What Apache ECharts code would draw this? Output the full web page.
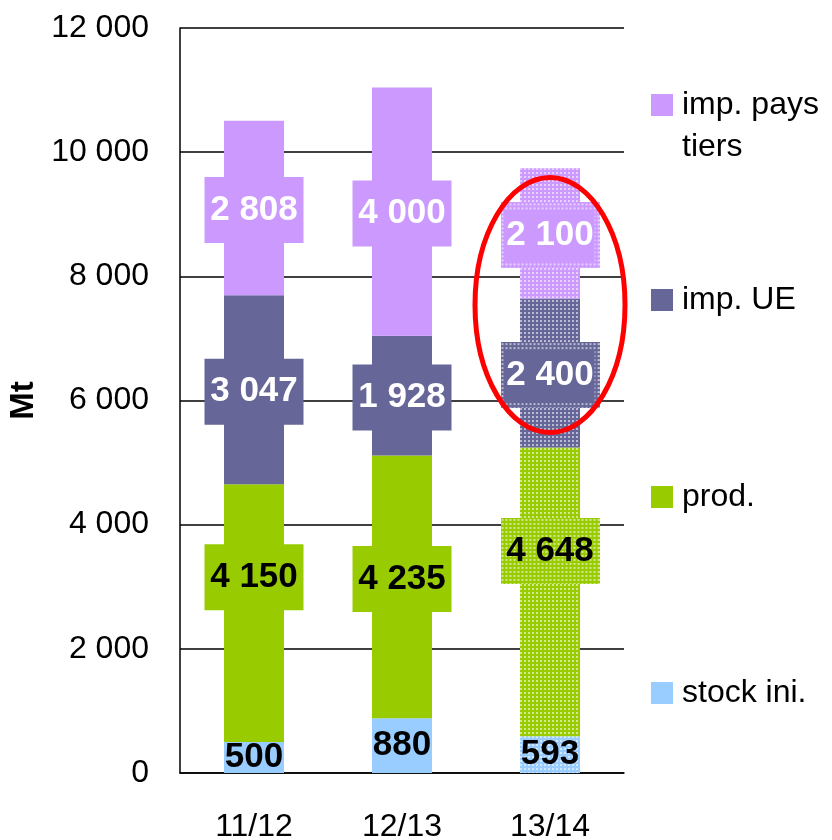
<!DOCTYPE html>
<html><head><meta charset="utf-8">
<script src="https://cdn.jsdelivr.net/npm/echarts@6/dist/echarts.min.js"></script>
<style>html,body{margin:0;padding:0;background:#fff}#c{width:832px;height:840px}</style>
</head><body><div id="c"></div>
<script>
// ---- data ----
const categories = ['11/12', '12/13', '13/14'];
const stockIni = [500, 880, 593];
const prod = [4150, 4235, 4648];
const impUE = [3047, 1928, 2400];
const impPaysTiers = [2808, 4000, 2100];
const seriesNames = ['stock ini.', 'prod.', 'imp. UE', 'imp. pays tiers'];
const yMin = 0, yMax = 12000, yInterval = 2000;
// label vertical nudges (px) as placed in the original
const prodLabelOffset = [-36, -8, -41];

// ---- styles ----
const FONT = '"Liberation Sans", Arial, Helvetica, sans-serif';
const colors = ['#99CCFF', '#99CC00', '#666699', '#CC99FF'];
const textColors = ['#000', '#000', '#fff', '#fff'];
const BOX_W = 85, BOX_H = 34, PAD_V = 16, PAD_H = 7;
const decal = { symbol: 'rect', symbolSize: 1, dashArrayX: [2, 2], dashArrayY: [2, 2], color: 'rgba(255,255,255,0.55)', rotation: 0 };

function fmt(v) { return String(v).replace(/\B(?=(\d{3})+(?!\d))/g, ' '); }

function patternCanvas(color, inset) {
  const w = BOX_W + 2 * PAD_H, h = BOX_H + 2 * PAD_V;
  const c = document.createElement('canvas'); c.width = w; c.height = h;
  const g = c.getContext('2d');
  g.fillStyle = color; g.fillRect(0, 0, w, h);
  g.fillStyle = 'rgba(255,255,255,0.55)';
  for (let y = 1; y < h; y += 4) for (let x = 1; x < w; x += 4) g.fillRect(x, y, 2, 2);
  if (inset) { g.fillStyle = color; g.fillRect(inset[0], inset[1], w - 2 * inset[0], h - 2 * inset[1]); }
  return c;
}

const seriesValues = [stockIni, prod, impUE, impPaysTiers];

function buildData(si) {
  const vals = seriesValues[si];
  return vals.map((v, i) => {
    const patterned = i === 2;
    const item = { value: v };
    const label = {};
    if (si > 0) {
      label.width = BOX_W; label.height = BOX_H; label.lineHeight = BOX_H;
      label.padding = [PAD_V, PAD_H];
      if (patterned) {
        label.backgroundColor = { image: patternCanvas(colors[si], si === 1 ? null : [5, 7]) };
      } else {
        label.backgroundColor = colors[si];
      }
      label.offset = [0, si === 1 ? prodLabelOffset[i] : 2];
    }
    item.label = label;
    if (patterned) item.itemStyle = { decal: decal };
    return item;
  });
}

const chart = echarts.init(document.getElementById('c'), null, { renderer: 'canvas' });

const legendCenters = [105, 300, 497, 693]; // imp. pays tiers, imp. UE, prod., stock ini.
const LEG_LH = 39, LEG_LH_FIRST = 42;

const option = {
  animation: false,
  backgroundColor: '#fff',
  color: colors,
  grid: { left: 180, right: 208, top: 28, bottom: 67, outerBoundsMode: 'none', containLabel: false },
  xAxis: {
    type: 'category', data: categories,
    axisLine: { lineStyle: { color: '#000', width: 1.5 } },
    axisTick: { show: false },
    axisLabel: { fontSize: 32, color: '#000', fontFamily: FONT, margin: 38 }
  },
  yAxis: {
    type: 'value', min: yMin, max: yMax, interval: yInterval,
    name: 'Mt', nameLocation: 'middle', nameRotate: 90, nameGap: 136,
    nameTextStyle: { fontSize: 33, fontWeight: 'bold', color: '#000', fontFamily: FONT },
    axisLine: { show: true, lineStyle: { color: '#000', width: 1.5 } },
    axisTick: { show: false },
    splitLine: { lineStyle: { color: '#000', width: 1.5 } },
    axisLabel: { fontSize: 32, color: '#000', fontFamily: FONT, margin: 31, formatter: v => fmt(v) }
  },
  legend: seriesNames.map((n, i) => {
    const first = i === 3;
    const center = legendCenters[3 - i];
    const lh = first ? LEG_LH_FIRST : LEG_LH;
    return {
      data: [n], orient: 'vertical', left: 651,
      top: first ? center - lh * 1.5 : center - lh / 2,
      padding: 0, itemWidth: 22, itemHeight: 22, icon: 'rect', selectedMode: false,
      formatter: name => name === 'imp. pays tiers' ? ' \nimp. pays\ntiers' : name,
      textStyle: { fontSize: 32, color: '#000', fontFamily: FONT, lineHeight: lh, padding: [0, 0, 0, 4] }
    };
  }),
  series: seriesNames.map((n, si) => ({
    name: n, type: 'bar', stack: 'total', barWidth: 60,
    itemStyle: { color: colors[si] },
    label: {
      show: true, position: 'inside', fontSize: 35, fontWeight: 'bold', fontFamily: FONT,
      color: textColors[si], align: 'center', verticalAlign: 'middle',
      formatter: p => fmt(p.value)
    },
    data: buildData(si)
  }))
};
chart.setOption(option);

// red highlight ellipse around the 13/14 import segments
const cx = chart.convertToPixel({ xAxisIndex: 0 }, '13/14');
const yTop = chart.convertToPixel({ yAxisIndex: 0 }, 9593);
const yBot = chart.convertToPixel({ yAxisIndex: 0 }, 5485);
chart.setOption({
  graphic: [{
    type: 'ellipse', z: 100,
    shape: { cx: cx, cy: (yTop + yBot) / 2, rx: 75, ry: (yBot - yTop) / 2 },
    style: { fill: 'none', stroke: '#FF0000', lineWidth: 5 }
  }]
});
</script>
</body></html>
